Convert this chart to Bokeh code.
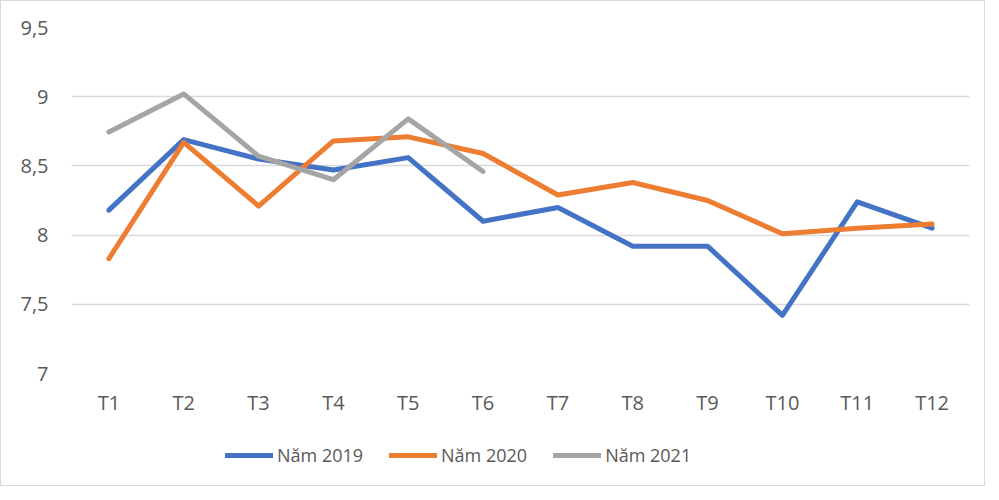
from bokeh.plotting import figure
from bokeh.layouts import column
from bokeh.models import Range1d, FactorRange, Legend, LegendItem, FixedTicker, ColumnDataSource
from bokeh.embed import file_html
from bokeh.resources import INLINE

months = ["T1", "T2", "T3", "T4", "T5", "T6", "T7", "T8", "T9", "T10", "T11", "T12"]
y2019 = [8.18, 8.69, 8.55, 8.47, 8.56, 8.10, 8.20, 7.92, 7.92, 7.42, 8.24, 8.05]
y2020 = [7.83, 8.67, 8.21, 8.68, 8.71, 8.59, 8.29, 8.38, 8.25, 8.01, 8.05, 8.08]
y2021 = [8.745, 9.02, 8.57, 8.40, 8.84, 8.46]
series_names = ["Năm 2019", "Năm 2020", "Năm 2021"]
colors = ["#4472C4", "#ED7D31", "#A5A5A5"]
yticks = [7, 7.5, 8, 8.5, 9, 9.5]
ytick_labels = ["7", "7,5", "8", "8,5", "9", "9,5"]

FONT = "Open Sans"
TXT = "#595959"

p = figure(width=983, height=420, x_range=FactorRange(*months, range_padding=0),
           y_range=Range1d(7, 9.5), output_backend="svg", toolbar_location=None,
           min_border_left=70, min_border_right=15, min_border_top=26, min_border_bottom=48)
p.outline_line_color = None

p.xgrid.grid_line_color = None
p.ygrid.grid_line_color = "#d9d9d9"
p.ygrid.grid_line_width = 1.5
p.yaxis.ticker = FixedTicker(ticks=yticks)
p.yaxis.major_label_overrides = {t: l for t, l in zip(yticks, ytick_labels)}

for ax in (p.xaxis[0], p.yaxis[0]):
    ax.axis_line_color = None
    ax.major_tick_line_color = None
    ax.minor_tick_line_color = None
    ax.major_tick_out = 0
    ax.major_tick_in = 0
    ax.major_label_text_font = FONT
    ax.major_label_text_font_size = "20px"
    ax.major_label_text_color = TXT
p.yaxis.major_label_standoff = 23
p.xaxis.major_label_standoff = 15

sources = []
for name, vals, c in zip(series_names, [y2019, y2020, y2021], colors):
    src = ColumnDataSource(dict(x=months[:len(vals)], y=vals))
    sources.append(src)
    p.line("x", "y", source=src, line_color=c, line_width=5, line_cap="round", line_join="round")

# legend panel below the chart (same series, drawn outside its visible range)
pl = figure(width=983, height=64, output_backend="svg", toolbar_location=None,
            min_border=0, x_range=FactorRange(*months), y_range=Range1d(100, 101))
pl.outline_line_color = None
pl.axis.visible = False
pl.grid.visible = False
lr = []
for src, c in zip(sources, colors):
    lr.append(pl.line("x", "y", source=src, line_color=c, line_width=5, line_cap="round"))
legend = Legend(items=[LegendItem(label=n, renderers=[r]) for n, r in zip(series_names, lr)],
                orientation="horizontal", location=(154, 18), border_line_color=None,
                background_fill_alpha=0, glyph_width=48, glyph_height=20, label_standoff=4,
                spacing=26, padding=0, margin=0,
                label_text_font=FONT, label_text_font_size="18px", label_text_color=TXT)
pl.add_layout(legend, "center")

layout = column(p, pl, spacing=0)
layout.styles = {"border": "1px solid #d9d9d9"}

open("out.html", "w").write(file_html(layout, INLINE))
